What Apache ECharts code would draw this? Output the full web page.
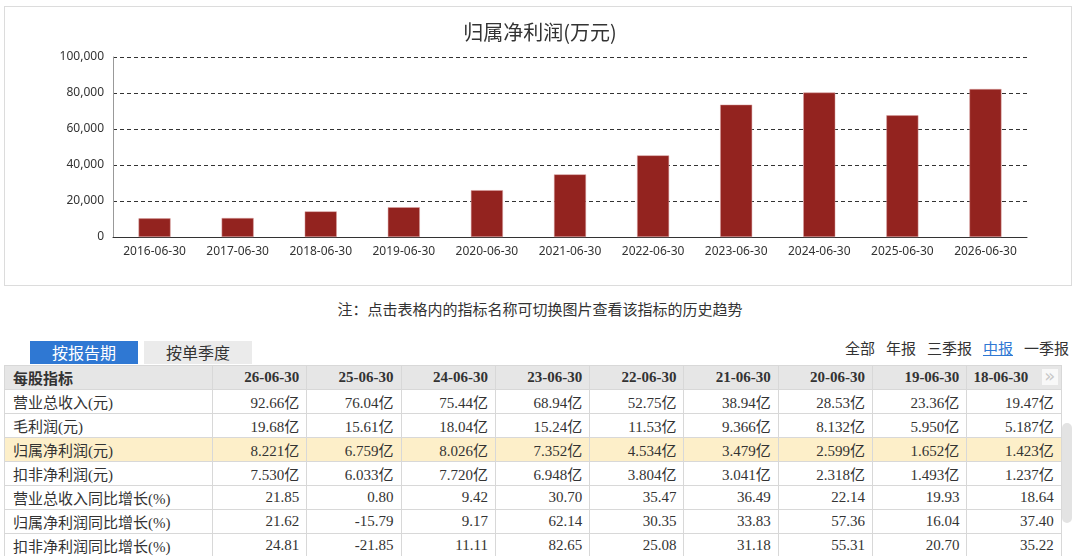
<!DOCTYPE html>
<html>
<head>
<meta charset="utf-8">
<script src="https://cdn.jsdelivr.net/npm/echarts@6/dist/echarts.min.js"></script>
<style>
  html, body { margin: 0; padding: 0; background: #fff; }
  body { width: 1080px; height: 556px; position: relative; overflow: hidden;
         font-family: "Liberation Serif", "Noto Sans CJK SC", serif; color: #333; }
  #frame { position: absolute; left: 4px; top: 6px; width: 1066px; height: 278px;
           border: 1px solid #dcdcdc; }
  #chart { position: absolute; left: 0; top: 0; width: 1080px; height: 290px; }
  #note { position: absolute; left: 0; width: 1080px; top: 298px; text-align: center;
          font-size: 15px; font-family: "Noto Sans CJK SC", sans-serif; color: #333; }
  .tab { position: absolute; top: 341px; height: 23px; line-height: 23px; width: 108px;
         text-align: center; font-size: 16px; font-family: "Noto Sans CJK SC", sans-serif; }
  #tab1 { left: 30px; background: #2f78d3; color: #fff; }
  #tab2 { left: 144px; background: #ebebeb; color: #333; }
  #links { position: absolute; top: 337px; right: 11px; font-size: 15px;
           font-family: "Noto Sans CJK SC", sans-serif; color: #333; }
  #links span { margin-left: 11px; }
  #links .on { color: #2f78d3; text-decoration: underline; }
  #tbl { position: absolute; left: 4px; top: 365px; border-collapse: collapse;
         table-layout: fixed; font-size: 15px; }
  #tbl td { border: 1px solid #d8d8d8; height: 23px; padding: 0 7px 0 0; text-align: right;
            white-space: nowrap; overflow: hidden; }
  #tbl td.name { text-align: left; padding: 0 0 0 8px; }
  #tbl tr.head td { background: #e6e6e6; font-weight: bold; }
  #tbl tr.hl td { background: #fdefc9; }
  #tbl td.last { text-align: left; padding-left: 6px; position: relative; }
  #more { position: absolute; right: 3px; top: 3px; width: 16px; height: 16px; background: #f8f8f8;
          color: #c8c8c8; font-family: "DejaVu Sans", sans-serif; font-size: 18px; line-height: 14px;
          text-align: center; font-weight: normal; }
  #scroll { position: absolute; left: 1062px; top: 423px; width: 10px; height: 100px;
            background: #e3e3e3; border-radius: 5px; }
</style>
</head>
<body>
<div id="frame"></div>
<div id="chart"></div>
<div id="note">注：点击表格内的指标名称可切换图片查看该指标的历史趋势</div>
<div class="tab" id="tab1">按报告期</div>
<div class="tab" id="tab2">按单季度</div>
<div id="links"><span>全部</span><span>年报</span><span>三季报</span><span class="on">中报</span><span>一季报</span></div>
<table id="tbl"></table>
<div id="scroll"></div>
<script>
// chart data: 归属净利润 (万元)
const periods = ['2016-06-30', '2017-06-30', '2018-06-30', '2019-06-30', '2020-06-30', '2021-06-30',
  '2022-06-30', '2023-06-30', '2024-06-30', '2025-06-30', '2026-06-30'];
const profitWan = [10350, 10540, 14230, 16520, 25990, 34790, 45340, 73520, 80260, 67590, 82210];
const yTicks = [0, 20000, 40000, 60000, 80000, 100000];

// table data
const headName = '每股指标';
const tableDates = ['26-06-30', '25-06-30', '24-06-30', '23-06-30', '22-06-30', '21-06-30', '20-06-30', '19-06-30', '18-06-30'];
const rowNames = ['营业总收入(元)', '毛利润(元)', '归属净利润(元)', '扣非净利润(元)',
  '营业总收入同比增长(%)', '归属净利润同比增长(%)', '扣非净利润同比增长(%)'];
const revenue = ['92.66亿', '76.04亿', '75.44亿', '68.94亿', '52.75亿', '38.94亿', '28.53亿', '23.36亿', '19.47亿'];
const grossProfit = ['19.68亿', '15.61亿', '18.04亿', '15.24亿', '11.53亿', '9.366亿', '8.132亿', '5.950亿', '5.187亿'];
const netProfit = ['8.221亿', '6.759亿', '8.026亿', '7.352亿', '4.534亿', '3.479亿', '2.599亿', '1.652亿', '1.423亿'];
const deductedProfit = ['7.530亿', '6.033亿', '7.720亿', '6.948亿', '3.804亿', '3.041亿', '2.318亿', '1.493亿', '1.237亿'];
const revenueYoY = ['21.85', '0.80', '9.42', '30.70', '35.47', '36.49', '22.14', '19.93', '18.64'];
const netProfitYoY = ['21.62', '-15.79', '9.17', '62.14', '30.35', '33.83', '57.36', '16.04', '37.40'];
const deductedYoY = ['24.81', '-21.85', '11.11', '82.65', '25.08', '31.18', '55.31', '20.70', '35.22'];
const highlightRow = 2;

// build table
const rows = [revenue, grossProfit, netProfit, deductedProfit, revenueYoY, netProfitYoY, deductedYoY];
let html = '<colgroup><col style="width:208px">';
tableDates.forEach(() => { html += '<col style="width:94.3px">'; });
html += '</colgroup>';
html += '<tr class="head"><td class="name">' + headName + '</td>';
tableDates.forEach((d, i) => {
  if (i === tableDates.length - 1) {
    html += '<td class="last">' + d + '<div id="more">&raquo;</div></td>';
  } else {
    html += '<td>' + d + '</td>';
  }
});
html += '</tr>';
rows.forEach((r, k) => {
  html += '<tr' + (k === highlightRow ? ' class="hl"' : '') + '><td class="name">' + rowNames[k] + '</td>';
  r.forEach(v => { html += '<td>' + v + '</td>'; });
  html += '</tr>';
});
document.getElementById('tbl').innerHTML = html;

// chart
const chart = echarts.init(document.getElementById('chart'));
const option = {
  animation: false,
  title: {
    text: '归属净利润(万元)',
    left: 'center',
    top: 17,
    textStyle: { fontSize: 20, fontWeight: 'normal', color: '#333', fontFamily: 'Noto Sans CJK SC' }
  },
  grid: { left: 113, right: 53, top: 57, bottom: 53 },
  xAxis: {
    type: 'category',
    data: periods,
    axisLine: { lineStyle: { color: '#333' } },
    axisTick: { show: false },
    axisLabel: { color: '#333', fontSize: 12, margin: 9, interval: 0, fontFamily: 'Noto Sans' }
  },
  yAxis: {
    type: 'value',
    min: yTicks[0],
    max: yTicks[yTicks.length - 1],
    interval: yTicks[1] - yTicks[0],
    axisLine: { show: true, lineStyle: { color: '#999' } },
    axisTick: { show: false },
    axisLabel: {
      color: '#333', fontSize: 12, margin: 9, fontFamily: 'Noto Sans',
      formatter: v => v.toLocaleString('en-US')
    },
    splitLine: { lineStyle: { color: '#333', type: [4, 3], width: 1 } }
  },
  series: [{
    type: 'bar',
    data: profitWan,
    barWidth: 32,
    itemStyle: { color: '#93231f', borderColor: '#d8a0a0', borderWidth: 0.5 }
  }]
};
chart.setOption(option);
</script>
</body>
</html>
